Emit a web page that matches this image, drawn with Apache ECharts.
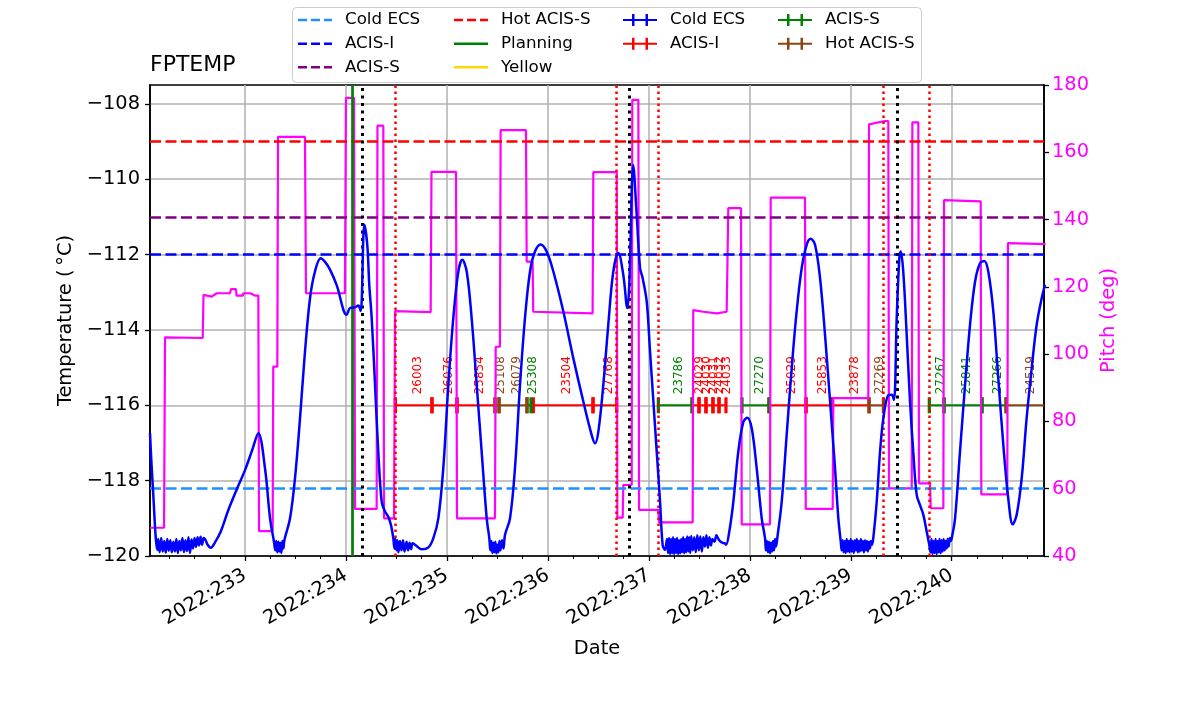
<!DOCTYPE html>
<html>
<head>
<meta charset="utf-8">
<title>FPTEMP</title>
<script src="https://cdn.jsdelivr.net/npm/echarts@6/dist/echarts.min.js"></script>
<style>
  html, body { margin: 0; padding: 0; background: #fff; }
  #chart { width: 1200px; height: 714px; }
</style>
</head>
<body>
<div id="chart"></div>
<script>
// axis range, in day of year 2022
const dayMin = 232.059
const dayMax = 240.914
const dayTicks = [233, 234, 235, 236, 237, 238, 239, 240]
const minorTicks = [232.25, 232.5, 232.75, 233.25, 233.5, 233.75, 234.25, 234.5, 234.75,
  235.25, 235.5, 235.75, 236.25, 236.5, 236.75, 237.25, 237.5, 237.75,
  238.25, 238.5, 238.75, 239.25, 239.5, 239.75, 240.25, 240.5, 240.75]
const tempTicks = [-120, -118, -116, -114, -112, -110, -108]

// limit lines (deg C)
const limitNames = ['Cold ECS', 'ACIS-I', 'ACIS-S', 'Hot ACIS-S']
const limitValues = [-118.2, -112, -111, -109]

// vertical markers
const planningTimes = [234.063]
const blackDotTimes = [234.162, 236.806, 239.455]
const redDotTimes = [234.49, 236.682, 237.094, 239.323, 239.778]

// obsid timeline
const obsY = -116
const obsids = ['26003', '26076', '25854', '25108', '26079', '25308', '23504', '27768', '23786',
  '24029', '24030', '24031', '24032', '24033', '27270', '25029', '25853', '23878', '27269',
  '27267', '25841', '27266', '24519']
const obsStart = [234.490, 234.852, 235.100, 235.476, 235.516, 235.793, 235.856, 236.447, 237.094,
  237.428, 237.497, 237.566, 237.635, 237.695, 237.923, 238.190, 238.557, 238.814, 239.181,
  239.778, 239.924, 240.300, 240.538]
const obsStop = [234.852, 235.100, 235.476, 235.516, 235.793, 235.833, 236.447, 236.682, 237.428,
  237.497, 237.566, 237.635, 237.695, 237.764, 238.190, 238.557, 238.814, 239.181, 239.323,
  239.924, 240.300, 240.538, 240.95]
const obsInstr = ['ACIS-I', 'ACIS-I', 'ACIS-I', 'Hot ACIS-S', 'Hot ACIS-S', 'ACIS-S', 'ACIS-I', 'ACIS-I', 'ACIS-S',
  'ACIS-I', 'ACIS-I', 'ACIS-I', 'ACIS-I', 'ACIS-I', 'ACIS-S', 'ACIS-I', 'ACIS-I', 'ACIS-I', 'Hot ACIS-S',
  'ACIS-S', 'ACIS-S', 'ACIS-S', 'Hot ACIS-S']

// pitch (deg), right axis
const pitch = [
  [232.059, 48.4], [232.198, 48.4], [232.208, 105.0], [232.581, 104.8], [232.589, 117.6], [232.670, 117.1],
  [232.720, 118.1], [232.851, 118.1], [232.861, 119.3], [232.911, 119.3], [232.916, 117.4], [232.980, 117.4],
  [232.983, 118.1], [233.050, 118.1], [233.054, 117.6], [233.099, 117.4], [233.132, 117.4], [233.139, 47.4],
  [233.274, 47.4], [233.280, 96.3], [233.320, 96.3], [233.327, 164.6], [233.594, 164.6], [233.604, 118.1],
  [233.990, 118.1], [234.000, 176.2], [234.080, 176.2], [234.090, 54.0], [234.304, 54.0], [234.312, 167.9],
  [234.370, 167.9], [234.377, 51.2], [234.476, 51.2], [234.486, 112.8], [234.839, 112.5], [234.847, 154.2],
  [235.090, 154.2], [235.100, 51.2], [235.476, 51.2], [235.483, 102.2], [235.525, 102.2], [235.532, 166.6],
  [235.783, 166.6], [235.790, 127.5], [235.849, 127.5], [235.855, 112.6], [236.443, 112.1], [236.450, 154.1],
  [236.682, 154.1], [236.688, 51.4], [236.741, 51.4], [236.747, 61.1], [236.830, 61.1], [236.836, 175.6],
  [236.896, 175.6], [236.903, 53.7], [237.094, 53.7], [237.101, 50.0], [237.434, 50.0], [237.440, 113.1],
  [237.540, 112.6], [237.672, 112.1], [237.771, 112.6], [237.787, 143.4], [237.913, 143.4], [237.920, 49.4],
  [238.200, 49.4], [238.207, 146.5], [238.547, 146.5], [238.554, 54.0], [238.821, 54.0], [238.827, 86.9],
  [239.174, 86.9], [239.181, 168.3], [239.339, 169.3], [239.372, 169.3], [239.379, 60.1], [239.604, 60.1],
  [239.610, 168.9], [239.669, 168.9], [239.676, 61.6], [239.785, 61.6], [239.792, 54.2], [239.917, 54.2],
  [239.924, 145.8], [240.287, 145.4], [240.293, 58.3], [240.550, 58.3], [240.557, 133.0], [240.930, 132.7]
]

// FPTEMP (deg C), left axis
const fptemp = [
  [232.059, -116.74], [232.086, -118.12], [232.132, -119.84],
  [232.14, -119.55], [232.155, -119.90], [232.17, -119.52], [232.185, -119.88], [232.20, -119.60], [232.215, -119.91],
  [232.23, -119.55], [232.245, -119.86], [232.26, -119.58], [232.275, -119.90], [232.29, -119.62], [232.305, -119.88],
  [232.32, -119.55], [232.335, -119.92], [232.35, -119.60], [232.365, -119.85], [232.38, -119.52], [232.395, -119.90],
  [232.41, -119.58], [232.425, -119.87], [232.44, -119.50], [232.455, -119.92], [232.47, -119.56], [232.485, -119.80],
  [232.50, -119.52], [232.515, -119.76], [232.53, -119.50], [232.545, -119.72], [232.56, -119.49], [232.575, -119.70],
  [232.59, -119.52], [232.604, -119.55], [232.630, -119.70], [232.660, -119.78], [232.700, -119.65], [232.760, -119.35],
  [232.835, -118.78], [232.920, -118.22], [233.000, -117.72], [233.070, -117.20], [233.132, -116.74], [233.198, -117.67],
  [233.248, -119.0], [233.287, -119.62], [233.30, -119.85], [233.31, -119.6], [233.32, -119.9], [233.33, -119.62],
  [233.34, -119.88], [233.35, -119.65], [233.36, -119.92], [233.37, -119.6], [233.38, -119.8], [233.39, -119.58],
  [233.446, -119.0], [233.495, -117.94], [233.545, -116.34], [233.594, -114.58], [233.644, -113.16], [233.693, -112.45],
  [233.750, -112.10], [233.800, -112.22], [233.842, -112.40], [233.908, -112.81], [234.007, -113.60], [234.040, -113.42],
  [234.090, -113.40], [234.122, -113.35], [234.146, -113.50], [234.182, -111.21], [234.211, -111.74], [234.231, -112.81],
  [234.255, -113.69], [234.288, -115.46], [234.320, -117.23], [234.354, -118.56], [234.387, -118.82], [234.419, -118.96],
  [234.446, -119.18], [234.469, -119.53],
  [234.48, -119.80], [234.49, -119.55], [234.50, -119.85], [234.51, -119.58], [234.52, -119.90], [234.535, -119.6],
  [234.55, -119.85], [234.565, -119.58], [234.58, -119.88], [234.60, -119.62], [234.615, -119.85], [234.63, -119.65],
  [234.645, -119.82], [234.66, -119.66], [234.684, -119.70], [234.750, -119.82], [234.816, -119.77], [234.865, -119.53],
  [234.915, -119.0], [234.964, -117.67], [235.014, -115.46], [235.063, -113.69], [235.113, -112.45], [235.152, -112.14],
  [235.196, -112.45], [235.245, -113.69], [235.295, -115.46], [235.344, -117.23], [235.394, -119.0], [235.420, -119.53],
  [235.43, -119.85], [235.44, -119.6], [235.45, -119.92], [235.46, -119.65], [235.47, -119.9], [235.48, -119.62],
  [235.49, -119.93], [235.50, -119.7], [235.51, -119.9], [235.52, -119.6], [235.53, -119.85], [235.545, -119.58],
  [235.56, -119.8], [235.575, -119.44], [235.625, -119.0], [235.674, -117.67], [235.724, -115.46], [235.773, -113.69],
  [235.823, -112.45], [235.872, -111.92], [235.929, -111.73], [235.988, -111.92], [236.054, -112.45], [236.153, -113.51],
  [236.252, -114.75], [236.351, -115.90], [236.434, -116.79], [236.467, -117.01], [236.500, -116.70], [236.549, -115.46],
  [236.598, -113.87], [236.648, -112.45], [236.698, -111.96], [236.747, -112.54], [236.787, -113.42], [236.806, -112.81],
  [236.846, -109.62], [236.880, -110.96], [236.913, -112.36], [236.939, -112.63], [236.979, -113.25], [237.012, -114.58],
  [237.045, -115.90], [237.078, -117.23], [237.111, -118.56], [237.137, -119.71], [237.160, -119.84],
  [237.18, -119.55], [237.19, -119.92], [237.20, -119.52], [237.21, -119.95], [237.22, -119.55], [237.23, -119.93],
  [237.24, -119.50], [237.25, -119.95], [237.26, -119.55], [237.27, -119.92], [237.28, -119.52], [237.29, -119.95],
  [237.30, -119.58], [237.31, -119.93], [237.32, -119.55], [237.33, -119.90], [237.34, -119.50], [237.35, -119.93],
  [237.36, -119.55], [237.37, -119.90], [237.38, -119.48], [237.39, -119.88], [237.40, -119.50], [237.41, -119.92],
  [237.42, -119.47], [237.435, -119.85], [237.45, -119.50], [237.465, -119.90], [237.48, -119.45], [237.495, -119.85],
  [237.51, -119.48], [237.525, -119.88], [237.54, -119.50], [237.555, -119.75], [237.57, -119.45], [237.585, -119.78],
  [237.60, -119.50], [237.615, -119.72], [237.63, -119.55], [237.65, -119.62], [237.67, -119.45], [237.69, -119.55],
  [237.71, -119.62], [237.73, -119.65], [237.75, -119.66], [237.765, -119.70],
  [237.797, -119.35], [237.837, -118.56], [237.886, -117.23], [237.936, -116.44], [237.975, -116.33], [238.019, -116.61],
  [238.068, -117.67], [238.118, -119.0], [238.151, -119.53],
  [238.16, -119.85], [238.17, -119.6], [238.18, -119.9], [238.19, -119.62], [238.20, -119.93], [238.21, -119.65],
  [238.22, -119.88], [238.23, -119.6], [238.24, -119.85], [238.25, -119.55], [238.26, -119.75],
  [238.272, -119.53], [238.316, -118.56], [238.365, -116.79], [238.415, -115.02], [238.464, -113.51], [238.514, -112.36],
  [238.563, -111.74], [238.603, -111.58], [238.646, -111.74], [238.696, -112.63], [238.745, -114.13], [238.795, -115.90],
  [238.844, -117.67], [238.877, -119.0], [238.901, -119.62],
  [238.91, -119.85], [238.92, -119.58], [238.93, -119.9], [238.94, -119.6], [238.95, -119.92], [238.96, -119.55],
  [238.97, -119.88], [238.98, -119.6], [238.99, -119.9], [239.00, -119.55], [239.01, -119.88], [239.02, -119.6],
  [239.03, -119.92], [239.04, -119.58], [239.05, -119.85], [239.06, -119.55], [239.07, -119.9], [239.08, -119.6],
  [239.09, -119.88], [239.10, -119.55], [239.11, -119.85], [239.12, -119.6], [239.13, -119.9], [239.14, -119.58],
  [239.15, -119.85], [239.16, -119.6], [239.17, -119.88], [239.18, -119.62], [239.19, -119.8], [239.20, -119.6],
  [239.21, -119.7],
  [239.223, -119.53], [239.257, -118.56], [239.290, -117.23], [239.323, -116.34], [239.372, -115.73], [239.405, -115.72],
  [239.428, -115.86], [239.455, -113.69], [239.481, -112.10], [239.495, -111.92], [239.520, -112.45], [239.554, -114.13],
  [239.587, -115.90], [239.619, -117.23], [239.653, -118.38], [239.686, -118.65], [239.719, -118.91], [239.752, -119.35],
  [239.778, -119.71],
  [239.79, -119.9], [239.80, -119.55], [239.81, -119.95], [239.82, -119.6], [239.83, -119.92], [239.84, -119.55],
  [239.85, -119.95], [239.86, -119.6], [239.87, -119.9], [239.88, -119.55], [239.89, -119.93], [239.90, -119.58],
  [239.91, -119.88], [239.92, -119.55], [239.93, -119.85], [239.94, -119.6], [239.95, -119.8], [239.96, -119.55],
  [239.97, -119.75], [239.98, -119.52], [239.99, -119.6],
  [240.000, -119.53], [240.033, -119.0], [240.082, -117.23], [240.132, -115.46], [240.181, -113.87], [240.231, -112.72],
  [240.280, -112.23], [240.323, -112.17], [240.362, -112.45], [240.412, -113.51], [240.461, -115.28], [240.511, -117.05],
  [240.560, -118.47], [240.604, -119.16], [240.643, -118.91], [240.693, -117.94], [240.742, -116.34], [240.792, -115.02],
  [240.841, -113.87], [240.891, -113.16], [240.924, -112.80]
]

const FONT = 'DejaVu Sans'
const AXFONT = 19.4
const limitColors = ['#1e90ff', '#0000ff', '#800080', '#ff0000']
const instrColors = { 'Cold ECS': '#0000ff', 'ACIS-I': '#ff0000', 'ACIS-S': '#008000', 'Hot ACIS-S': '#8b4513' }
const ZW = '\u200b' // keeps the errorbar legend names apart from the limit names
const ebIcon = 'path://M0,5h34v2h-34z M9,0h2.5v12h-2.5z M22.5,0h2.5v12h-2.5z'
const dashIcon = 'path://M0,0h9v2.5h-9z M13,0h9v2.5h-9z M26,0h8v2.5h-8z'
const solidIcon = 'path://M0,0h34v2.5h-34z'

function renderObsid(params, api) {
  const i = api.value(3)
  const y = api.value(2)
  const p0 = api.coord([api.value(0), y])
  const p1 = api.coord([api.value(1), y])
  const cs = params.coordSys
  const right = cs.x + cs.width
  const color = api.visual('color')
  const children = [
    { type: 'line', shape: { x1: p0[0], y1: p0[1], x2: Math.min(p1[0], right), y2: p1[1] },
      style: { stroke: color, lineWidth: 2 } },
    { type: 'rect', shape: { x: p0[0] - 1.6, y: p0[1] - 8, width: 3.2, height: 16 }, style: { fill: color } },
    { type: 'text', x: (p0[0] + p1[0]) / 2 + 4, y: p0[1] - 11, rotation: Math.PI / 2,
      style: { text: obsids[i], fill: color, font: '12px "' + FONT + '"', align: 'left', verticalAlign: 'middle' } }
  ]
  if (p1[0] <= right) {
    children.push({ type: 'rect', shape: { x: p1[0] - 1.6, y: p1[1] - 8, width: 3.2, height: 16 }, style: { fill: color } })
  }
  return { type: 'group', children: children }
}

function obsSeries(instr) {
  const data = []
  obsids.forEach((o, i) => {
    if (obsInstr[i] === instr) data.push([obsStart[i], obsStop[i], obsY, i])
  })
  return {
    name: instr + ZW, type: 'custom', renderItem: renderObsid, data: data,
    color: instrColors[instr], encode: { x: [0, 1], y: 2 }, z: 3, silent: true
  }
}

function vLines(times, color, width, dash, z) {
  return {
    type: 'line', data: [], z: z, silent: true, symbol: 'none',
    markLine: {
      silent: true, symbol: ['none', 'none'], label: { show: false }, animation: false,
      lineStyle: { color: color, width: width, type: dash },
      data: times.map(t => ({ xAxis: t }))
    }
  }
}

function legendCol(left, names) {
  return {
    orient: 'vertical', left: left, top: 11.6, padding: 0,
    itemWidth: 34, itemHeight: 12, itemGap: 6.6, selectedMode: false,
    textStyle: { fontFamily: FONT, fontSize: 16.7, color: '#000', padding: [0, 0, 0, 8] },
    formatter: n => n.replace(ZW, ''),
    data: names
  }
}

const series = []
limitNames.forEach((n, i) => {
  series.push({
    name: n, type: 'line', data: [], color: limitColors[i], z: 2, symbol: 'none',
    lineStyle: { color: limitColors[i], width: 2.5, type: [11, 4.5] },
    markLine: {
      silent: true, symbol: ['none', 'none'], label: { show: false }, animation: false,
      lineStyle: { color: limitColors[i], width: 2.5, type: [11, 4.5] },
      data: [{ yAxis: limitValues[i] }]
    }
  })
})
const planning = vLines(planningTimes, '#008000', 2.7, 'solid', 2)
planning.name = 'Planning'
planning.color = '#008000'
planning.lineStyle = { color: '#008000', width: 2.5 }
series.push(planning)
series.push({ name: 'Yellow', type: 'line', data: [], symbol: 'none', color: '#ffd700', lineStyle: { color: '#ffd700', width: 2.5 } })
series.push({ name: 'Cold ECS' + ZW, type: 'custom', renderItem: renderObsid, data: [], color: instrColors['Cold ECS'] })
series.push(obsSeries('ACIS-I'))
series.push(obsSeries('ACIS-S'))
series.push(obsSeries('Hot ACIS-S'))
series.push({
  name: 'Pitch', type: 'line', yAxisIndex: 1, data: pitch, showSymbol: false, symbol: 'none', z: 4,
  lineStyle: { color: '#ff00ff', width: 2.2 }, color: '#ff00ff'
})
series.push({
  name: 'FPTEMP', type: 'line', yAxisIndex: 0, data: fptemp, showSymbol: false, symbol: 'none', z: 5,
  smooth: 0.35,
  lineStyle: { color: '#0000ff', width: 2.5 }, color: '#0000ff'
})
series.push(vLines(redDotTimes, '#ff0000', 2.5, [2.5, 3.5], 6))
series.push(vLines(blackDotTimes, '#000000', 3, [3, 4.5], 6))

const chart = echarts.init(document.getElementById('chart'))
chart.setOption({
  animation: false,
  backgroundColor: '#fff',
  textStyle: { fontFamily: FONT },
  title: {
    text: 'FPTEMP', left: 150, top: 54, padding: 0,
    textStyle: { fontFamily: FONT, fontSize: 22, fontWeight: 'normal', color: '#000' }
  },
  graphic: [{
    type: 'rect', left: 292, top: 7, z: 0, silent: true,
    shape: { width: 629, height: 75, r: 4 },
    style: { fill: '#fff', stroke: '#cccccc', lineWidth: 1 }
  }],
  legend: [
    legendCol(298, [{ name: 'Cold ECS', icon: dashIcon }, { name: 'ACIS-I', icon: dashIcon }, { name: 'ACIS-S', icon: dashIcon }]),
    legendCol(454, [{ name: 'Hot ACIS-S', icon: dashIcon }, { name: 'Planning', icon: solidIcon }, { name: 'Yellow', icon: solidIcon }]),
    legendCol(623, [{ name: 'Cold ECS' + ZW, icon: ebIcon }, { name: 'ACIS-I' + ZW, icon: ebIcon }]),
    legendCol(778, [{ name: 'ACIS-S' + ZW, icon: ebIcon }, { name: 'Hot ACIS-S' + ZW, icon: ebIcon }])
  ],
  grid: { left: 150, right: 156, top: 85, bottom: 158, show: true, borderColor: '#000', borderWidth: 1.6 },
  xAxis: [{
    type: 'value', min: dayMin, max: dayMax, position: 'bottom',
    name: 'Date', nameLocation: 'middle', nameGap: 83,
    nameTextStyle: { fontFamily: FONT, fontSize: AXFONT, color: '#000' },
    axisLine: { lineStyle: { color: '#000', width: 1.6 } },
    axisTick: { customValues: dayTicks, length: 5, lineStyle: { color: '#000', width: 1.3 } },
    axisLabel: {
      customValues: dayTicks, rotate: 30, margin: 18, color: '#000', fontFamily: FONT, fontSize: AXFONT,
      formatter: v => '2022:' + v
    },
    splitLine: { show: true, lineStyle: { color: '#b0b0b0', width: 1.5 } }
  }, {
    type: 'value', min: dayMin, max: dayMax, position: 'bottom',
    axisLine: { show: false },
    axisTick: { customValues: minorTicks, length: 3, lineStyle: { color: '#000', width: 1 } },
    axisLabel: { show: false },
    splitLine: { show: false }
  }],
  yAxis: [{
    type: 'value', min: -120, max: -107.5, interval: 2, position: 'left',
    name: 'Temperature (\u2009°C)', nameLocation: 'middle', nameGap: 70, nameRotate: 90,
    nameTextStyle: { fontFamily: FONT, fontSize: AXFONT, color: '#000' },
    axisLine: { show: true, lineStyle: { color: '#000', width: 1.6 } },
    axisTick: { show: true, customValues: tempTicks, length: 5, lineStyle: { color: '#000', width: 1.3 } },
    axisLabel: {
      customValues: tempTicks, margin: 10, color: '#000', fontFamily: FONT, fontSize: AXFONT,
      formatter: v => (v < 0 ? '\u2212' : '') + Math.abs(v)
    },
    splitLine: { show: true, lineStyle: { color: '#b0b0b0', width: 1.5 } }
  }, {
    type: 'value', min: 40, max: 180, interval: 20, position: 'right',
    name: 'Pitch (deg)', nameLocation: 'middle', nameGap: 48, nameRotate: 90,
    nameTextStyle: { fontFamily: FONT, fontSize: AXFONT, color: '#ff00ff' },
    axisLine: { show: true, lineStyle: { color: '#000', width: 1.6 } },
    axisTick: { show: true, length: 5, lineStyle: { color: '#000', width: 1.3 } },
    axisLabel: { margin: 8, color: '#ff00ff', fontFamily: FONT, fontSize: AXFONT },
    splitLine: { show: false }
  }],
  series: series
})
</script>
</body>
</html>
